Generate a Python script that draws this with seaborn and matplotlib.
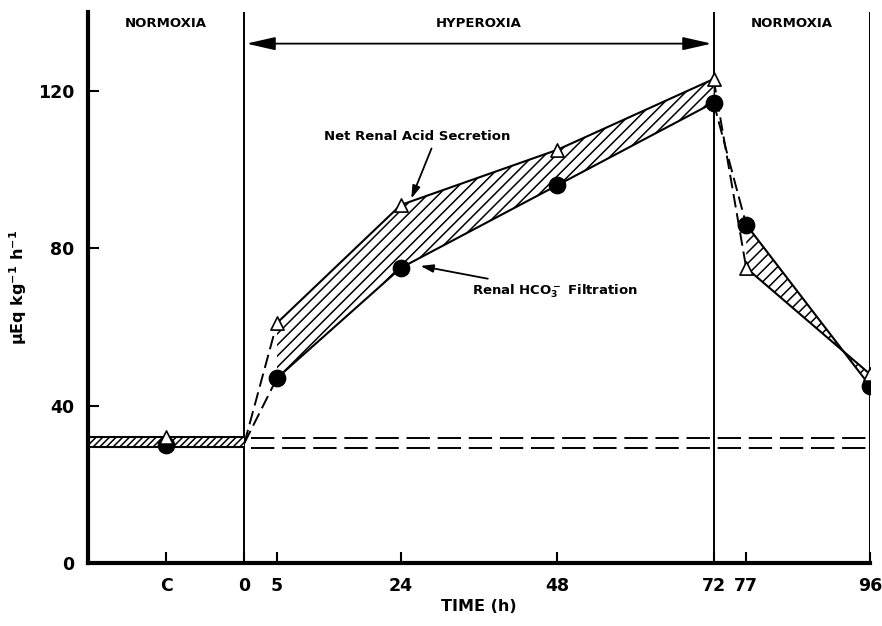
import matplotlib
matplotlib.use("Agg")
import matplotlib.pyplot as plt
import seaborn as sns
import pandas as pd
import numpy as np

# ---- data ----
tick_pos = [-12, 0, 5, 24, 48, 72, 77, 96]
tick_labels = ["C", "0", "5", "24", "48", "72", "77", "96"]
y_ticks = [0, 40, 80, 120]

time_h = [-12, 5, 24, 48, 72, 77, 96]
net_acid = [32, 61, 91, 105, 123, 75, 48]       # triangles
hco3_filt = [30, 47, 75, 96, 117, 86, 45]       # circles
start_value = 30.5                              # value at time 0
control_band = (29.5, 32.0)
baseline_dash = [31.8, 29.3]

sns.set_style("ticks")
plt.rcParams["font.family"] = ["DejaVu Sans"]
plt.rcParams["font.weight"] = "bold"
plt.rcParams["mathtext.fontset"] = "custom"
plt.rcParams["mathtext.rm"] = "DejaVu Sans:bold"
plt.rcParams["mathtext.it"] = "DejaVu Sans:bold"
plt.rcParams["mathtext.bf"] = "DejaVu Sans:bold"
plt.rcParams["hatch.linewidth"] = 1.1
for k in ["text.color", "axes.labelcolor", "xtick.color", "ytick.color", "axes.edgecolor"]:
    plt.rcParams[k] = "black"

fig = plt.figure(figsize=(8.82, 6.26), dpi=100)
ax = fig.add_axes([0.0998, 0.1006, 0.8866, 0.880])

df = pd.DataFrame({"time": time_h, "acid": net_acid, "hco3": hco3_filt})
hyper = df[(df.time >= 5) & (df.time <= 72)]
recov = df[(df.time >= 77)]

# hatched areas
for seg in (hyper, recov):
    ax.fill_between(seg.time, seg.hco3, seg.acid, facecolor="white",
                    hatch="///", edgecolor="black", linewidth=0, zorder=2)
    sns.lineplot(x=seg.time, y=seg.acid, color="black", lw=1.5, ax=ax, zorder=3)
    sns.lineplot(x=seg.time, y=seg.hco3, color="black", lw=1.5, ax=ax, zorder=3)

# control band
ax.fill_between([-24, 0], [control_band[0]] * 2, [control_band[1]] * 2,
                facecolor="white", hatch="/////", edgecolor="black", linewidth=0, zorder=2)
ax.plot([-24, 0], [control_band[0]] * 2, color="black", lw=1.5, zorder=3)
ax.plot([-24, 0], [control_band[1]] * 2, color="black", lw=1.5, zorder=3)

# dashed transitions
for series in (net_acid, hco3_filt):
    ax.plot([0, 5], [start_value, series[1]], color="black", lw=1.4, dashes=(7, 3), zorder=3)
    ax.plot([72, 77], [series[4], series[5]], color="black", lw=1.4, dashes=(7, 3), zorder=3)

# baseline dashed lines
for yv in baseline_dash:
    ax.plot([1, 96], [yv, yv], color="black", lw=1.4, dashes=(12, 4), zorder=1)

# vertical phase lines
ax.plot([0, 0], [0, 140], color="black", lw=1.4, zorder=1)
ax.plot([72, 72], [0, 140], color="black", lw=1.4, zorder=1)
ax.plot([96, 96], [0, 140], color="black", lw=2.2, zorder=1)

# markers
sns.scatterplot(x=df.time, y=df.hco3, marker="o", s=140, color="black",
                edgecolor="black", ax=ax, zorder=5)
sns.scatterplot(x=df.time, y=df.acid, marker="^", s=90, color="white",
                edgecolor="black", linewidth=1.2, ax=ax, zorder=6)

# phase headers
ax.text(-12, 138.8, "NORMOXIA", ha="center", va="top", fontsize=9.5, fontweight="bold")
ax.text(36, 138.8, "HYPEROXIA", ha="center", va="top", fontsize=9.5, fontweight="bold")
ax.text(84, 138.8, "NORMOXIA", ha="center", va="top", fontsize=9.5, fontweight="bold")
ax.annotate("", xy=(0.3, 132), xytext=(71.7, 132),
            arrowprops=dict(arrowstyle="<|-|>,head_length=1.1,head_width=0.25",
                            lw=1.3, color="black", mutation_scale=16,
                            shrinkA=0, shrinkB=0))

# annotations
ax.annotate("Net Renal Acid Secretion", xy=(25.6, 92.6), xytext=(26.5, 108.5),
            ha="center", va="center", fontsize=9.5, fontweight="bold",
            arrowprops=dict(arrowstyle="-|>,head_length=0.8,head_width=0.25",
                            lw=1.3, color="black", shrinkA=2, shrinkB=0,
                            relpos=(0.59, 0.0)))
ax.annotate(r"Renal HCO$_3^-$ Filtration", xy=(27, 75.5), xytext=(35, 69),
            ha="left", va="center", fontsize=9.5, fontweight="bold",
            arrowprops=dict(arrowstyle="-|>,head_length=0.8,head_width=0.25",
                            lw=1.3, color="black", shrinkA=3, shrinkB=0))

# axes
ax.set_xlim(-24, 96)
ax.set_ylim(0, 140)
ax.set_xticks(tick_pos)
ax.set_xticklabels(tick_labels)
ax.set_yticks(y_ticks)
ax.tick_params(direction="in", length=8, width=1.5, labelsize=12.5, pad=10)
for lab in ax.get_xticklabels() + ax.get_yticklabels():
    lab.set_fontweight("bold")
ax.spines["top"].set_visible(False)
ax.spines["right"].set_visible(False)
ax.spines["left"].set_linewidth(3)
ax.spines["bottom"].set_linewidth(3)
ax.set_xlabel("TIME (h)", fontsize=11.5, fontweight="bold", labelpad=3)
ax.set_ylabel(r"μEq kg$^{-1}$ h$^{-1}$", fontsize=11.5, fontweight="bold")
ax.yaxis.set_label_coords(-0.075, 0.5)

fig.savefig("out.png", dpi=100)
